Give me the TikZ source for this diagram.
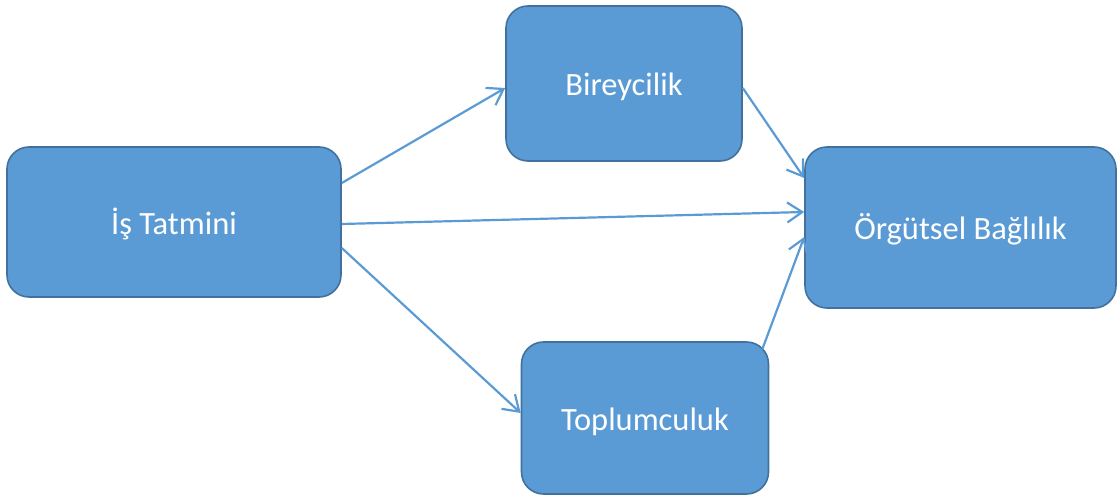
\documentclass[tikz,border=0pt]{standalone}
\usepackage{fontspec}
\setmainfont{Carlito}
\usetikzlibrary{arrows.meta}
\definecolor{boxfill}{HTML}{5B9BD5}
\definecolor{boxline}{HTML}{41719C}
\definecolor{arrowcol}{HTML}{5B9BD5}
\begin{document}
\begin{tikzpicture}[x=1bp,y=-1bp,
  box/.style={draw=boxline, line width=1.6bp, fill=boxfill, rounded corners=22bp,
    text=white, font=\fontsize{32.5bp}{38bp}\selectfont, inner sep=0pt,
    text height=28bp, text depth=3bp},
  conn/.style={draw=arrowcol, line width=2.2bp, -{Straight Barb[length=15bp,width=20bp,line width=2.2bp]}}]
\useasboundingbox (0,0) rectangle (1117,495);
\node[box, minimum width=334bp, minimum height=150bp] (is) at (174,222) {İş Tatmini};
\node[box, minimum width=236bp, minimum height=155bp] (bir) at (624,83.5) {Bireycilik};
\node[box, minimum width=311bp, minimum height=161bp] (org) at (960.5,227.5) {Örgütsel Bağlılık};
\node[box, minimum width=247bp, minimum height=152bp] (top) at (645,418) {Toplumculuk};
\draw[conn] ([yshift=39bp]is.east) -- ([yshift=-4.5bp]bir.west);
\draw[conn] ([yshift=-2bp]is.east) -- ([yshift=15.5bp]org.west);
\draw[conn] ([yshift=-26bp]is.east) -- ([yshift=5bp]top.west);
\draw[conn] ([yshift=-4.5bp]bir.east) -- ([yshift=49.5bp]org.west);
\draw[conn] ([xshift=-7bp,yshift=-8bp]top.north east) -- ([yshift=-9.5bp]org.west);
\end{tikzpicture}
\end{document}
